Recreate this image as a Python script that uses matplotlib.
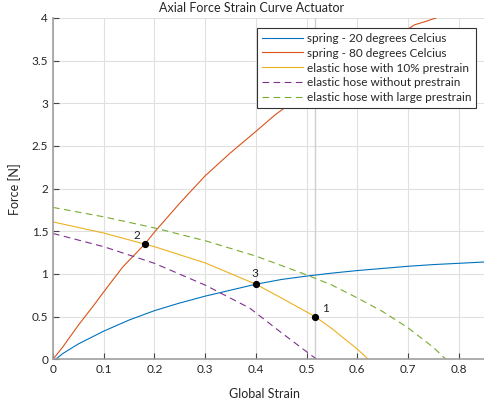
import matplotlib
matplotlib.use('Agg')
import matplotlib.pyplot as plt

plt.rcParams['font.family'] = ['Lato', 'DejaVu Sans']

# spring - 20 degrees
s20_x = [0.005, 0.02, 0.05, 0.1, 0.15, 0.2, 0.25, 0.3, 0.35, 0.4, 0.45, 0.5, 0.55, 0.6, 0.65, 0.7, 0.75, 0.8, 0.85]
s20_y = [0.0, 0.07, 0.18, 0.33, 0.46, 0.57, 0.66, 0.74, 0.81, 0.88, 0.935, 0.975, 1.01, 1.04, 1.065, 1.09, 1.11, 1.125, 1.14]

# spring - 80 degrees
s80_x = [0.0, 0.02, 0.05, 0.08, 0.1, 0.138, 0.16, 0.181, 0.2, 0.25, 0.3, 0.35, 0.4, 0.437, 0.5, 0.55, 0.6, 0.65, 0.7, 0.713, 0.735, 0.755]
s80_y = [0.0, 0.15, 0.4, 0.63, 0.79, 1.085, 1.22, 1.35, 1.49, 1.83, 2.15, 2.42, 2.67, 2.86, 3.14, 3.36, 3.55, 3.72, 3.87, 3.92, 3.96, 4.0]

# elastic hose with 10% prestrain
h10_x = [0.0, 0.1, 0.181, 0.2, 0.3, 0.4, 0.45, 0.517, 0.55, 0.6, 0.622]
h10_y = [1.61, 1.48, 1.35, 1.32, 1.13, 0.88, 0.72, 0.5, 0.36, 0.12, 0.0]

# elastic hose without prestrain
h0_x = [0.0, 0.1, 0.2, 0.3, 0.388, 0.453, 0.52]
h0_y = [1.475, 1.32, 1.125, 0.87, 0.6, 0.3, 0.0]

# elastic hose with large prestrain
hl_x = [0.0, 0.1, 0.2, 0.3, 0.4, 0.5, 0.55, 0.6, 0.65, 0.7, 0.75, 0.775]
hl_y = [1.78, 1.67, 1.54, 1.39, 1.21, 0.99, 0.87, 0.72, 0.56, 0.37, 0.14, 0.0]

# marked points
pt_x = [0.517, 0.181, 0.4]
pt_y = [0.5, 1.35, 0.88]
pt_lbl = ['1', '2', '3']
pt_off = [(5, 3), (-8, 4), (-3, 5)]

fig = plt.figure(figsize=(4.84, 4.08), dpi=100)
ax = fig.add_axes([53 / 484, (408 - 359.3) / 408, 1 - 53 / 484, (359.3 - 18) / 408])

ax.axvline(pt_x[0], color='#cfcfcf', lw=1, zorder=1)

ax.plot(s20_x, s20_y, color='#0072BD', lw=0.8, label='spring - 20 degrees Celcius')
ax.plot(s80_x, s80_y, color='#D95319', lw=0.8, label='spring - 80 degrees Celcius')
ax.plot(h10_x, h10_y, color='#EDB120', lw=0.8, label='elastic hose with 10% prestrain')
ax.plot(h0_x, h0_y, color='#7E2F8E', lw=0.8, ls=(0, (6, 4)), label='elastic hose without prestrain')
ax.plot(hl_x, hl_y, color='#77AC30', lw=0.8, ls=(0, (6, 4)), label='elastic hose with large prestrain')

ax.plot(pt_x, pt_y, 'o', color='black', ms=4.2, zorder=5)
for x, y, t, off in zip(pt_x, pt_y, pt_lbl, pt_off):
    ax.annotate(t, (x, y), xytext=off, textcoords='offset points', fontsize=8.5, color='#222222')

ax.set_xlim(0, 0.85)
ax.set_ylim(0, 4)
ax.set_xticks([0, 0.1, 0.2, 0.3, 0.4, 0.5, 0.6, 0.7, 0.8])
ax.set_xticklabels(['0', '0.1', '0.2', '0.3', '0.4', '0.5', '0.6', '0.7', '0.8'])
ax.set_yticks([0, 0.5, 1, 1.5, 2, 2.5, 3, 3.5, 4])
ax.set_yticklabels(['0', '0.5', '1', '1.5', '2', '2.5', '3', '3.5', '4'])
ax.grid(True, color='#e0e0e0', lw=0.8)
ax.set_axisbelow(True)
ax.tick_params(direction='in', length=4, width=0.8, colors='#444444', labelsize=8.5, labelcolor='#262626')
for side in ['top', 'right']:
    ax.spines[side].set_visible(False)
for side in ['left', 'bottom']:
    ax.spines[side].set_color('#a0a0a0')
    ax.spines[side].set_linewidth(1.2)

ax.set_title('Axial Force Strain Curve Actuator', fontsize=9, color='#262626', x=0.46, pad=4)
ax.set_xlabel('Global Strain', fontsize=9, color='#262626')
ax.xaxis.set_label_coords(0.49, -0.085)
ax.set_ylabel('Force [N]', fontsize=9, color='#262626')
ax.yaxis.set_label_coords(-0.075, 0.5)

leg = ax.legend(loc='upper right', bbox_to_anchor=((476 - 53) / 431, 1 - 10 / 341.3), borderaxespad=0,
                fontsize=8.5, frameon=True, fancybox=False, edgecolor='#333333', framealpha=1,
                handlelength=3.5, borderpad=0.4, labelspacing=0.33, handletextpad=0.3)
leg.get_frame().set_linewidth(0.8)
for t in leg.get_texts():
    t.set_color('#262626')

fig.savefig('out.png', dpi=100)
